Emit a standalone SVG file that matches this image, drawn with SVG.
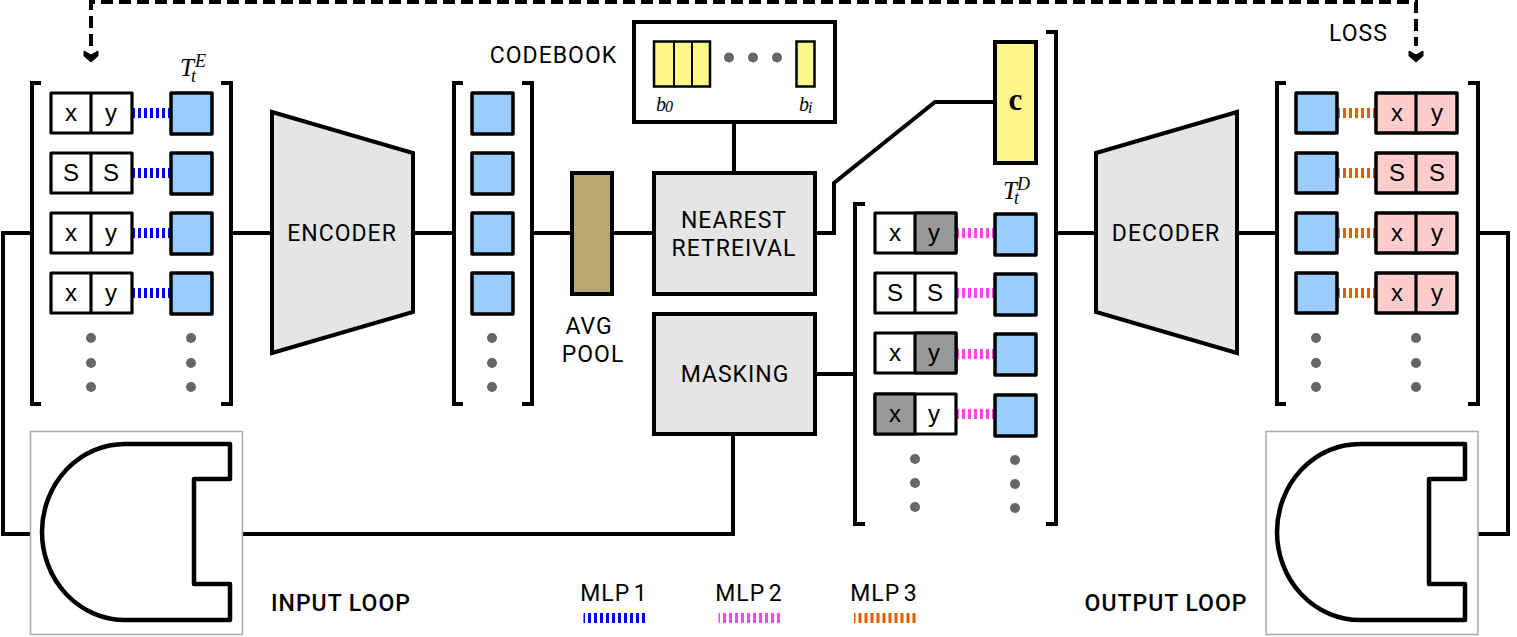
<svg xmlns="http://www.w3.org/2000/svg" xmlns:xlink="http://www.w3.org/1999/xlink" width="1517" height="637" viewBox="0 0 1517 637">
<style>
.l{fill:none;stroke:#000;stroke-width:4}
.b{fill:none;stroke:#000;stroke-width:4}
.sq{fill:#99ccff;stroke:#000;stroke-width:3.5;stroke-linejoin:round}
.c{fill:#fff;stroke:#000;stroke-width:3.2;stroke-linejoin:round}
.p{fill:#ffcccc;stroke:#000;stroke-width:3.5;stroke-linejoin:round}
.g{fill:#999;stroke:#000;stroke-width:3.2;stroke-linejoin:round}
.box{fill:#e5e5e5;stroke:#000;stroke-width:4}
.y{fill:#fff68a;stroke:#000;stroke-width:2.5}
.d{fill:#666}
.t{font-family:"Liberation Sans",Arial,sans-serif;font-size:24px;text-anchor:middle;fill:#000}
.u{font-family:Roboto,"Liberation Sans",sans-serif;font-size:23px;letter-spacing:1px;text-anchor:middle;fill:#000}
.m{font-family:"Liberation Serif",serif;font-style:italic;fill:#000}
.m1{stroke:#0000ff;stroke-width:10;stroke-dasharray:3 3;fill:none}
.m2{stroke:#ff44f0;stroke-width:10;stroke-dasharray:3 3;fill:none}
.m3{stroke:#e65c00;stroke-width:10;stroke-dasharray:3 3;fill:none}
.leg{stroke-dashoffset:1.5}
.dash{fill:none;stroke:#000;stroke-width:4;stroke-dasharray:12 6}
.loop{fill:#fff;stroke:#aaa;stroke-width:1.5}
.shape{fill:none;stroke:#000;stroke-width:4.5;stroke-linejoin:round}
</style>
<defs>
<path id="ah" d="M-7,0 L0,4 L7,0 L7,5 L0,11 L-7,5 Z" fill="#000" stroke="#000" stroke-width="1"/>
<path id="dshape" d="M230,444 L125,444 A83,88 0 0 0 125,620 L230,620 L230,584 L194,584 L194,479 L230,479 Z"/>
</defs>

<g id="connectors">
<path class="l" d="M31,233 H3 V534 H30"/>
<path class="l" d="M231,233 H272"/>
<path class="l" d="M413,233 H453"/>
<path class="l" d="M532,233 H571"/>
<path class="l" d="M612,233 H654"/>
<path class="l" d="M734,122 V173"/>
<path class="l" d="M815,233 H834 V183 L935,102 H995"/>
<path class="l" d="M815,374 H854"/>
<path class="l" d="M243,534 H733 V434"/>
<path class="l" d="M1056,233 H1096"/>
<path class="l" d="M1237,233 H1277"/>
<path class="l" d="M1478,233 H1508 V534 H1478"/>
<path class="dash" d="M91,46 V2 H1416 V46"/>
<use xlink:href="#ah" href="#ah" x="91" y="51"/>
<use xlink:href="#ah" href="#ah" x="1416" y="51"/>
<path class="m1" d="M132,113 H171 M132,173 H171 M132,233 H171 M132,293 H171"/>
<path class="m2" d="M956,233 H995 M956,293 H995 M956,354 H995 M956,414 H995"/>
<path class="m3" d="M1337,113 H1376 M1337,173 H1376 M1337,233 H1376 M1337,293 H1376"/>
</g>

<g id="input-tokens">
<path class="b" d="M41,83 H32 V404 H41"/>
<path class="b" d="M221,83 H231 V404 H221"/>
<g id="in-row-1"><rect class="c" x="51" y="93" width="81" height="40"/><path class="l" d="M91,93 V133" style="stroke-width:3.2"/><text class="t" x="71" y="121">x</text><text class="t" x="111" y="121">y</text><rect class="sq" x="171" y="93" width="41" height="41"/></g>
<g id="in-row-2"><rect class="c" x="51" y="153" width="81" height="40"/><path class="l" d="M91,153 V193" style="stroke-width:3.2"/><text class="t" x="71" y="181">S</text><text class="t" x="111" y="181">S</text><rect class="sq" x="171" y="153" width="41" height="41"/></g>
<g id="in-row-3"><rect class="c" x="51" y="213" width="81" height="40"/><path class="l" d="M91,213 V253" style="stroke-width:3.2"/><text class="t" x="71" y="241">x</text><text class="t" x="111" y="241">y</text><rect class="sq" x="171" y="213" width="41" height="41"/></g>
<g id="in-row-4"><rect class="c" x="51" y="273" width="81" height="40"/><path class="l" d="M91,273 V313" style="stroke-width:3.2"/><text class="t" x="71" y="301">x</text><text class="t" x="111" y="301">y</text><rect class="sq" x="171" y="273" width="41" height="41"/></g>
<circle class="d" cx="91" cy="338" r="5"/><circle class="d" cx="91" cy="363" r="5"/><circle class="d" cx="91" cy="387" r="5"/>
<circle class="d" cx="191" cy="338" r="5"/><circle class="d" cx="191" cy="363" r="5"/><circle class="d" cx="191" cy="387" r="5"/>
<text class="m" x="180" y="76" font-size="25">T</text><text class="m" x="191" y="82" font-size="18">t</text><text class="m" x="195" y="67" font-size="18">E</text>
</g>

<g id="encoder"><path class="box" d="M272,112 L413,153 V312 L272,353 Z"/><text class="u" x="342" y="241">ENCODER</text></g>

<g id="encoded-tokens">
<path class="b" d="M463,83 H454 V404 H463"/>
<path class="b" d="M522,83 H532 V404 H522"/>
<rect class="sq" x="472" y="93" width="41" height="41"/>
<rect class="sq" x="472" y="153" width="41" height="41"/>
<rect class="sq" x="472" y="213" width="41" height="41"/>
<rect class="sq" x="472" y="273" width="41" height="41"/>
<circle class="d" cx="492" cy="338" r="5"/><circle class="d" cx="492" cy="363" r="5"/><circle class="d" cx="492" cy="387" r="5"/>
</g>

<g id="avg-pool"><rect x="572" y="173" width="40" height="121" fill="#b8aa6e" stroke="#000" stroke-width="4"/><text class="u" x="589" y="334">AVG</text><text class="u" x="593" y="362">POOL</text></g>

<g id="codebook">
<rect x="634" y="22" width="201" height="100" fill="#fff" stroke="#000" stroke-width="4"/>
<rect class="y" x="654" y="41.500" width="56" height="45"/><path d="M674,41 V86 M692,41 V86" stroke="#000" stroke-width="2"/>
<rect class="y" x="796.500" y="41.500" width="18" height="45"/>
<circle class="d" cx="729" cy="57.500" r="5"/><circle class="d" cx="753" cy="57.500" r="5"/><circle class="d" cx="777" cy="57.500" r="5"/>
<text class="m" x="656" y="111" font-size="20">b</text><text class="m" x="665" y="112" font-size="16">0</text>
<text class="m" x="799" y="111" font-size="20">b</text><text class="m" x="808" y="113" font-size="16">i</text>
<text class="u" x="553.500" y="63">CODEBOOK</text>
</g>

<g id="nearest-retrieval"><rect class="box" x="654" y="173" width="161" height="121"/><text class="u" x="734" y="228">NEAREST</text><text class="u" x="734" y="256">RETREIVAL</text></g>
<g id="masking"><rect class="box" x="654" y="314" width="161" height="120"/><text class="u" x="735" y="382">MASKING</text></g>

<g id="c-token"><rect x="995" y="42" width="41" height="121" fill="#fff68a" stroke="#000" stroke-width="4"/><text x="1015.500" y="110" font-family="'Liberation Serif',serif" font-weight="bold" font-size="31" text-anchor="middle">c</text></g>

<g id="masked-tokens">
<path class="b" d="M865,204 H855 V524 H865"/>
<path class="b" d="M1046,32 H1056 V524 H1046"/>
<g id="mid-row-1"><rect class="c" x="875" y="213" width="81" height="40"/><rect class="g" x="915" y="213" width="41" height="40"/><text class="t" x="895" y="241">x</text><text class="t" x="934" y="241">y</text><rect class="sq" x="995" y="214" width="41" height="41"/></g>
<g id="mid-row-2"><rect class="c" x="875" y="273" width="81" height="40"/><path class="l" d="M915,273 V313" style="stroke-width:3.2"/><text class="t" x="895" y="301">S</text><text class="t" x="935" y="301">S</text><rect class="sq" x="995" y="274" width="41" height="41"/></g>
<g id="mid-row-3"><rect class="c" x="875" y="333" width="81" height="40"/><rect class="g" x="915" y="333" width="41" height="40"/><text class="t" x="895" y="361">x</text><text class="t" x="934" y="361">y</text><rect class="sq" x="995" y="334" width="41" height="41"/></g>
<g id="mid-row-4"><rect class="c" x="875" y="394" width="81" height="40"/><rect class="g" x="875" y="394" width="40" height="40"/><text class="t" x="895" y="422">x</text><text class="t" x="934" y="422">y</text><rect class="sq" x="995" y="395" width="41" height="41"/></g>
<circle class="d" cx="915" cy="459" r="5"/><circle class="d" cx="915" cy="483" r="5"/><circle class="d" cx="915" cy="507" r="5"/>
<circle class="d" cx="1015" cy="460" r="5"/><circle class="d" cx="1015" cy="484" r="5"/><circle class="d" cx="1015" cy="508" r="5"/>
<text class="m" x="1003" y="199" font-size="25">T</text><text class="m" x="1014" y="204" font-size="18">t</text><text class="m" x="1017" y="190" font-size="18">D</text>
</g>

<g id="decoder"><path class="box" d="M1096,153 L1237,112 V353 L1096,312 Z"/><text class="u" x="1166" y="241">DECODER</text></g>

<g id="output-tokens">
<path class="b" d="M1286,83 H1277 V404 H1286"/>
<path class="b" d="M1468,83 H1478 V404 H1468"/>
<g id="out-row-1"><rect class="sq" x="1296" y="93" width="41" height="40"/><rect class="p" x="1376" y="93" width="81" height="40"/><path class="l" d="M1416,93 V133" style="stroke-width:3.2"/><text class="t" x="1397" y="121">x</text><text class="t" x="1437" y="121">y</text></g>
<g id="out-row-2"><rect class="sq" x="1296" y="153" width="41" height="40"/><rect class="p" x="1376" y="153" width="81" height="40"/><path class="l" d="M1416,153 V193" style="stroke-width:3.2"/><text class="t" x="1397" y="181">S</text><text class="t" x="1437" y="181">S</text></g>
<g id="out-row-3"><rect class="sq" x="1296" y="213" width="41" height="40"/><rect class="p" x="1376" y="213" width="81" height="40"/><path class="l" d="M1416,213 V253" style="stroke-width:3.2"/><text class="t" x="1397" y="241">x</text><text class="t" x="1437" y="241">y</text></g>
<g id="out-row-4"><rect class="sq" x="1296" y="273" width="41" height="40"/><rect class="p" x="1376" y="273" width="81" height="40"/><path class="l" d="M1416,273 V313" style="stroke-width:3.2"/><text class="t" x="1397" y="301">x</text><text class="t" x="1437" y="301">y</text></g>
<circle class="d" cx="1316" cy="338" r="5"/><circle class="d" cx="1316" cy="363" r="5"/><circle class="d" cx="1316" cy="387" r="5"/>
<circle class="d" cx="1416" cy="338" r="5"/><circle class="d" cx="1416" cy="363" r="5"/><circle class="d" cx="1416" cy="387" r="5"/>
<text class="u" x="1358.500" y="41">LOSS</text>
</g>

<g id="input-loop"><rect class="loop" x="30.500" y="431.500" width="212" height="203"/><use xlink:href="#dshape" href="#dshape" class="shape"/><text class="u" x="341" y="611" style="font-weight:500">INPUT LOOP</text></g>
<g id="output-loop"><rect class="loop" x="1266" y="431.500" width="212" height="203"/><use xlink:href="#dshape" href="#dshape" class="shape" x="1235"/><text class="u" x="1166" y="611" style="font-weight:500">OUTPUT LOOP</text></g>

<g id="legend">
<text class="u" x="614" y="601" style="word-spacing:-3px">MLP 1</text><path class="m1 leg" d="M583.500,618 H645"/>
<text class="u" x="749" y="601" style="word-spacing:-3px">MLP 2</text><path class="m2 leg" d="M718.500,618 H780"/>
<text class="u" x="884" y="601" style="word-spacing:-3px">MLP 3</text><path class="m3 leg" d="M854,618 H916"/>
</g>
</svg>
